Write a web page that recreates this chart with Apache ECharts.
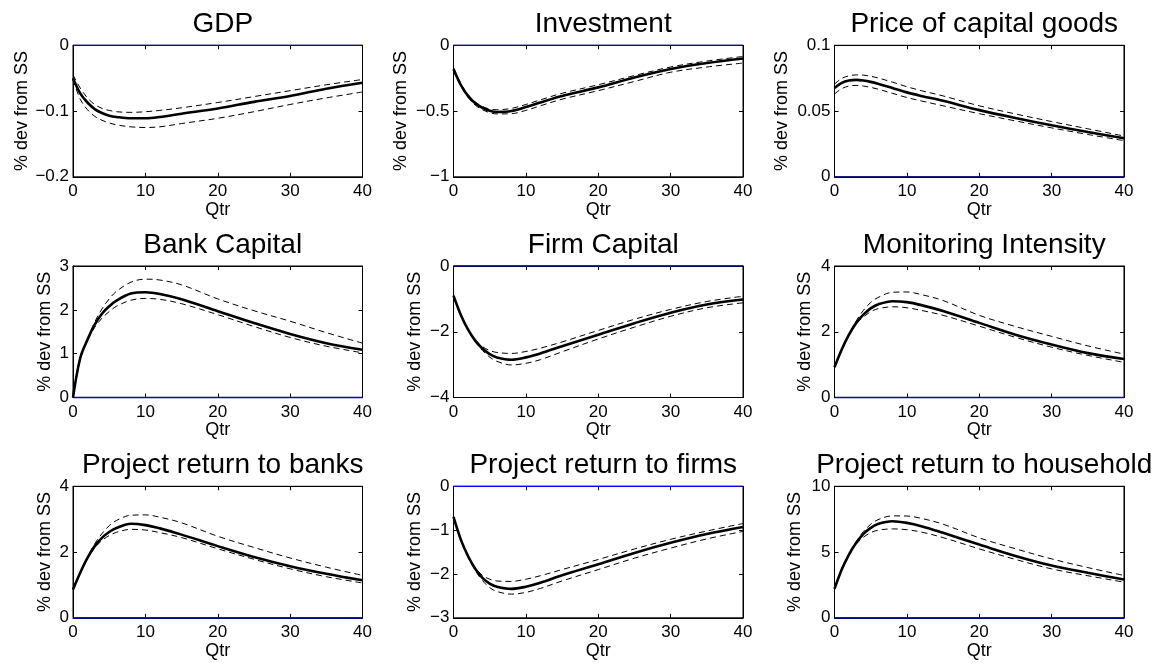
<!DOCTYPE html>
<html>
<head>
<meta charset="utf-8">
<script src="https://cdn.jsdelivr.net/npm/echarts@6/dist/echarts.min.js"></script>
<style>
html,body{margin:0;padding:0;background:#fff;}
#chart{width:1158px;height:665px;}
</style>
</head>
<body>
<div id="chart"></div>
<script>
// ---------- data ----------
const qtr = [0, 1, 2, 3, 4, 5, 6, 8, 10, 12, 15, 20, 25, 30, 35, 40];
const xTicks = [0, 10, 20, 30, 40];

const titles = ['GDP', 'Investment', 'Price of capital goods',
  'Bank Capital', 'Firm Capital', 'Monitoring Intensity',
  'Project return to banks', 'Project return to firms', 'Project return to household'];
const yAxisName = '% dev from SS';
const xAxisName = 'Qtr';

// y tick ranges [min, max, step]
const yTicksGDP = [-0.2, 0, 0.1];
const yTicksInv = [-1, 0, 0.5];
const yTicksPrice = [0, 0.1, 0.05];
const yTicksBank = [0, 3, 1];
const yTicksFirm = [-4, 0, 2];
const yTicksMon = [0, 4, 2];
const yTicksRetBank = [0, 4, 2];
const yTicksRetFirm = [-3, 0, 1];
const yTicksRetHh = [0, 10, 5];

const gdpMid = [-0.050, -0.073, -0.087, -0.097, -0.103, -0.107, -0.109, -0.111, -0.111, -0.109, -0.104, -0.096, -0.086, -0.077, -0.066, -0.057];
const gdpUp  = [-0.045, -0.065, -0.080, -0.090, -0.096, -0.099, -0.101, -0.102, -0.101, -0.099, -0.095, -0.087, -0.078, -0.069, -0.060, -0.052];
const gdpLo  = [-0.052, -0.082, -0.098, -0.108, -0.114, -0.118, -0.121, -0.124, -0.125, -0.124, -0.119, -0.111, -0.101, -0.090, -0.080, -0.071];

const invMid = [-0.18, -0.30, -0.385, -0.44, -0.475, -0.497, -0.507, -0.50, -0.47, -0.435, -0.385, -0.32, -0.245, -0.18, -0.135, -0.10];
const invUp  = [-0.17, -0.29, -0.375, -0.43, -0.465, -0.485, -0.49, -0.48, -0.45, -0.415, -0.365, -0.30, -0.23, -0.165, -0.12, -0.085];
const invLo  = [-0.19, -0.31, -0.395, -0.455, -0.49, -0.512, -0.522, -0.52, -0.495, -0.46, -0.41, -0.345, -0.275, -0.205, -0.165, -0.135];

const priceMid = [0.0675, 0.0715, 0.0733, 0.0737, 0.0732, 0.0722, 0.0708, 0.0675, 0.0642, 0.0615, 0.0578, 0.0507, 0.0447, 0.0392, 0.0340, 0.0293];
const priceUp  = [0.0705, 0.0748, 0.0768, 0.0775, 0.0773, 0.0765, 0.0752, 0.0720, 0.0685, 0.0655, 0.0615, 0.0540, 0.0478, 0.0420, 0.0365, 0.0310];
const priceLo  = [0.0630, 0.0670, 0.0690, 0.0695, 0.0690, 0.0680, 0.0667, 0.0635, 0.0603, 0.0577, 0.0540, 0.0480, 0.0425, 0.0372, 0.0322, 0.0275];

const bankMid = [0, 0.90, 1.32, 1.66, 1.91, 2.08, 2.21, 2.37, 2.40, 2.36, 2.24, 1.97, 1.70, 1.45, 1.24, 1.09];
const bankUp  = [0, 0.88, 1.33, 1.72, 2.02, 2.25, 2.42, 2.63, 2.70, 2.68, 2.57, 2.25, 1.98, 1.74, 1.48, 1.24];
const bankLo  = [0, 0.93, 1.32, 1.60, 1.81, 1.96, 2.08, 2.22, 2.26, 2.24, 2.14, 1.89, 1.62, 1.37, 1.17, 1.02];

const firmMid = [-0.90, -1.48, -1.93, -2.27, -2.51, -2.68, -2.78, -2.85, -2.78, -2.66, -2.44, -2.09, -1.74, -1.42, -1.17, -1.02];
const firmUp  = [-0.90, -1.47, -1.92, -2.24, -2.45, -2.57, -2.63, -2.66, -2.60, -2.50, -2.31, -1.96, -1.62, -1.32, -1.08, -0.92];
const firmLo  = [-0.90, -1.49, -1.95, -2.30, -2.57, -2.77, -2.90, -3.01, -2.96, -2.85, -2.61, -2.22, -1.86, -1.53, -1.27, -1.12];

const monMid = [0.92, 1.46, 1.91, 2.27, 2.52, 2.71, 2.83, 2.93, 2.90, 2.81, 2.63, 2.27, 1.91, 1.61, 1.35, 1.17];
const monUp  = [0.92, 1.44, 1.92, 2.33, 2.65, 2.89, 3.04, 3.20, 3.21, 3.13, 2.95, 2.50, 2.16, 1.86, 1.57, 1.32];
const monLo  = [0.92, 1.48, 1.92, 2.24, 2.45, 2.61, 2.70, 2.76, 2.73, 2.65, 2.50, 2.17, 1.83, 1.53, 1.28, 1.07];

const retBankMid = [0.86, 1.37, 1.82, 2.18, 2.43, 2.61, 2.73, 2.86, 2.82, 2.72, 2.53, 2.18, 1.85, 1.57, 1.34, 1.14];
const retBankUp  = [0.86, 1.36, 1.84, 2.25, 2.56, 2.80, 2.96, 3.12, 3.13, 3.06, 2.89, 2.48, 2.14, 1.82, 1.54, 1.29];
const retBankLo  = [0.86, 1.38, 1.81, 2.13, 2.35, 2.50, 2.60, 2.69, 2.67, 2.59, 2.44, 2.10, 1.78, 1.49, 1.25, 1.06];

const retFirmMid = [-0.70, -1.21, -1.59, -1.88, -2.09, -2.22, -2.29, -2.34, -2.29, -2.20, -2.03, -1.78, -1.52, -1.29, -1.09, -0.93];
const retFirmUp  = [-0.70, -1.20, -1.58, -1.85, -2.03, -2.12, -2.16, -2.17, -2.12, -2.04, -1.90, -1.67, -1.43, -1.21, -1.02, -0.85];
const retFirmLo  = [-0.70, -1.22, -1.61, -1.92, -2.15, -2.31, -2.40, -2.46, -2.42, -2.33, -2.16, -1.90, -1.64, -1.41, -1.20, -1.03];

const retHhMid = [2.20, 3.67, 4.81, 5.70, 6.38, 6.84, 7.14, 7.34, 7.22, 6.97, 6.46, 5.57, 4.70, 3.97, 3.42, 2.91];
const retHhUp  = [2.20, 3.62, 4.80, 5.78, 6.56, 7.11, 7.46, 7.75, 7.74, 7.56, 7.12, 6.08, 5.25, 4.48, 3.82, 3.22];
const retHhLo  = [2.20, 3.72, 4.82, 5.60, 6.13, 6.47, 6.66, 6.76, 6.70, 6.52, 6.10, 5.24, 4.44, 3.72, 3.20, 2.71];

const panelData = [
  [gdpMid, gdpUp, gdpLo, yTicksGDP],
  [invMid, invUp, invLo, yTicksInv],
  [priceMid, priceUp, priceLo, yTicksPrice],
  [bankMid, bankUp, bankLo, yTicksBank],
  [firmMid, firmUp, firmLo, yTicksFirm],
  [monMid, monUp, monLo, yTicksMon],
  [retBankMid, retBankUp, retBankLo, yTicksRetBank],
  [retFirmMid, retFirmUp, retFirmLo, yTicksRetFirm],
  [retHhMid, retHhUp, retHhLo, yTicksRetHh]
];

// ---------- layout ----------
const colLeft = [73, 453.5, 834.5];
const rowTop = [45.3, 266, 486.3];
const plotW = 289.5, plotH = 131.5;
const yNameGap = [42, 43, 43, 19, 29, 20, 19, 29, 30];
const zeroColor = ['#0c0c8e', '#0c0c8e', '#0c0c8e', '#0c0c8e', '#0c0c8e', '#0c0c8e', '#0000ff', '#0000ff', '#0000ff'];
const FONT = '"Liberation Sans", Arial, Helvetica, sans-serif';

const fmt = v => {
  let s = String(+v.toFixed(6));
  return s.replace('-', '\u2212');
};

const grids = [], xAxes = [], yAxes = [], series = [], titleArr = [];
panelData.forEach((p, i) => {
  const r = Math.floor(i / 3), c = i % 3;
  const [mid, up, lo, yt] = p;
  grids.push({ left: colLeft[c], top: rowTop[r], width: plotW, height: plotH,
    show: true, borderColor: '#000', borderWidth: 1, backgroundColor: '#fff' });
  titleArr.push({ text: titles[i], left: colLeft[c] + plotW / 2, top: rowTop[r] - 40,
    textAlign: 'center',
    textStyle: { fontFamily: FONT, fontSize: 28, fontWeight: 'normal', color: '#000' } });
  const tickStyle = { inside: true, length: 4, lineStyle: { color: '#000', width: 1 } };
  // bottom x
  xAxes.push({ gridIndex: i, type: 'value', position: 'bottom', min: xTicks[0], max: xTicks[xTicks.length - 1],
    interval: xTicks[1] - xTicks[0],
    axisLine: { show: true, onZero: false, lineStyle: { color: '#000', width: 1 } },
    axisTick: tickStyle, splitLine: { show: false },
    axisLabel: { color: '#000', fontSize: 17, fontFamily: FONT, margin: 6, formatter: fmt },
    name: xAxisName, nameLocation: 'middle', nameGap: 24,
    nameTextStyle: { color: '#000', fontSize: 18, fontFamily: FONT } });
  // top x (ticks only)
  xAxes.push({ gridIndex: i, type: 'value', position: 'top', min: xTicks[0], max: xTicks[xTicks.length - 1],
    interval: xTicks[1] - xTicks[0],
    axisLine: { show: true, onZero: false, lineStyle: { color: '#000', width: 1 } },
    axisTick: tickStyle, splitLine: { show: false }, axisLabel: { show: false } });
  // left y
  yAxes.push({ gridIndex: i, type: 'value', position: 'left', min: yt[0], max: yt[1], interval: yt[2],
    axisLine: { show: true, onZero: false, lineStyle: { color: '#000', width: 1 } },
    axisTick: tickStyle, splitLine: { show: false },
    axisLabel: { color: '#000', fontSize: 17, fontFamily: FONT, margin: 4, formatter: fmt },
    name: yAxisName, nameLocation: 'middle', nameGap: yNameGap[i],
    nameTextStyle: { color: '#000', fontSize: 18, fontFamily: FONT } });
  // right y (ticks only)
  yAxes.push({ gridIndex: i, type: 'value', position: 'right', min: yt[0], max: yt[1], interval: yt[2],
    axisLine: { show: true, onZero: false, lineStyle: { color: '#000', width: 1 } },
    axisTick: tickStyle, splitLine: { show: false }, axisLabel: { show: false } });

  const xi = i * 2, yi = i * 2;
  const pts = arr => qtr.map((q, k) => [q, arr[k]]);
  series.push({ type: 'line', xAxisIndex: xi, yAxisIndex: yi, data: [[xTicks[0], 0], [xTicks[xTicks.length - 1], 0]],
    symbol: 'none', silent: true, clip: false, z: 3,
    lineStyle: { color: zeroColor[i], width: 1.3 } });
  [up, lo].forEach(arr => series.push({ type: 'line', xAxisIndex: xi, yAxisIndex: yi, data: pts(arr),
    symbol: 'none', smooth: 0.35, silent: true, z: 4,
    lineStyle: { color: '#000', width: 1, type: [6, 4] } }));
  series.push({ type: 'line', xAxisIndex: xi, yAxisIndex: yi, data: pts(mid),
    symbol: 'none', smooth: 0.35, silent: true, z: 5,
    lineStyle: { color: '#000', width: 2.6 } });
});

const chart = echarts.init(document.getElementById('chart'), null, { renderer: 'canvas' });
chart.setOption({
  animation: false,
  backgroundColor: '#fff',
  title: titleArr,
  grid: grids,
  xAxis: xAxes,
  yAxis: yAxes,
  series: series
});
</script>
</body>
</html>
